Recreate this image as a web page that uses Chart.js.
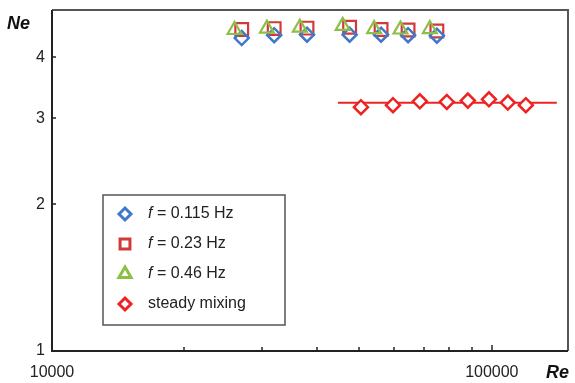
<!DOCTYPE html>
<html>
<head>
<meta charset="utf-8">
<script src="https://cdn.jsdelivr.net/npm/chart.js@4.4.1/dist/chart.umd.min.js"></script>
<style>
  html, body { margin: 0; padding: 0; background: #fff; }
  #wrap { width: 575px; height: 383px; position: relative; }
</style>
</head>
<body>
<div id="wrap"><canvas id="neChart"></canvas></div>
<script>
// data (Re vs Ne, log-log)
const reBlue = [27000, 32000, 38000, 47500, 56000, 64500, 75000];
const neBlue = [4.38, 4.44, 4.45, 4.45, 4.45, 4.44, 4.43];
const reSquare = [27000, 32000, 38000, 47500, 56000, 64500, 75000];
const neSquare = [4.56, 4.58, 4.59, 4.61, 4.56, 4.55, 4.53];
const reTri = [26000, 30800, 36600, 45800, 54000, 62000, 72300];
const neTri = [4.55, 4.58, 4.60, 4.64, 4.57, 4.56, 4.57];
const reSteady = [50400, 59600, 68600, 79000, 88200, 98500, 108700, 119500];
const neSteady = [3.16, 3.19, 3.25, 3.24, 3.26, 3.28, 3.23, 3.19];
const reFit = [44700, 140500];
const neFit = [3.227, 3.227];

const xLabelTicks = [10000, 100000];
const xMinorTicks = [20000, 30000, 40000, 50000, 60000, 70000, 80000, 90000, 100000];
const yTicks = [1, 2, 3, 4];

const legendLabels = [
    { italic: 'f', text: ' = 0.115 Hz' },
    { italic: 'f', text: ' = 0.23 Hz' },
    { italic: 'f', text: ' = 0.46 Hz' },
    { italic: '', text: 'steady mixing' }
];

const BLUE = '#3f78c8';
const SQRED = '#d23a3a';
const GREEN = '#8dbf45';
const RED = '#ee2222';
const FONT = '"Liberation Sans", Arial, sans-serif';

const pts = (xs, ys) => xs.map((x, i) => ({ x: x, y: ys[i] }));

// frame, inward ticks, axis titles and the boxed legend
const decorPlugin = {
    id: 'decor',
    afterDraw(chart) {
        const ctx = chart.ctx;
        const area = chart.chartArea;
        const xs = chart.scales.x;
        const ys = chart.scales.y;
        ctx.save();

        // frame
        ctx.strokeStyle = '#555';
        ctx.lineWidth = 2;
        ctx.beginPath();
        ctx.moveTo(area.left, area.top);
        ctx.lineTo(area.right, area.top);
        ctx.lineTo(area.right, area.bottom);
        ctx.stroke();
        ctx.strokeStyle = '#222';
        ctx.beginPath();
        ctx.moveTo(area.left, area.top);
        ctx.lineTo(area.left, area.bottom);
        ctx.lineTo(area.right, area.bottom);
        ctx.stroke();

        // inward tick marks
        ctx.lineWidth = 1.5;
        xMinorTicks.forEach(v => {
            const px = Math.round(xs.getPixelForValue(v));
            ctx.beginPath();
            ctx.moveTo(px, area.bottom);
            ctx.lineTo(px, area.bottom - (v === 100000 ? 6 : 4));
            ctx.stroke();
        });
        yTicks.slice(1).forEach(v => {
            const py = Math.round(ys.getPixelForValue(v));
            ctx.beginPath();
            ctx.moveTo(area.left, py);
            ctx.lineTo(area.left + 4, py);
            ctx.stroke();
        });

        // axis titles
        ctx.fillStyle = '#111';
        ctx.font = 'italic bold 18px ' + FONT;
        ctx.textBaseline = 'middle';
        ctx.textAlign = 'left';
        ctx.fillText('Ne', 7, 24);
        ctx.fillText('Re', 546, 373);

        // legend box
        const bx = 103, by = 195, bw = 182, bh = 130;
        ctx.strokeStyle = '#555';
        ctx.lineWidth = 1.5;
        ctx.strokeRect(bx, by, bw, bh);

        const rowY = [214, 244, 274, 304];
        chart.data.datasets.filter(d => d.legendIndex !== undefined)
            .sort((a, b) => a.legendIndex - b.legendIndex)
            .forEach((d, i) => {
                ctx.strokeStyle = d.borderColor;
                ctx.fillStyle = '#fff';
                ctx.lineWidth = 3;
                Chart.helpers.drawPoint(ctx, {
                    pointStyle: d.pointStyle,
                    rotation: 0,
                    radius: d.pointStyle === 'triangle' ? 7 : (d.pointStyle === 'rect' ? 7 : 6),
                    borderWidth: 3
                }, 125, rowY[i]);
                const lab = legendLabels[i];
                let tx = 148;
                ctx.fillStyle = '#222';
                ctx.textAlign = 'left';
                if (lab.italic) {
                    ctx.font = 'italic 16px ' + FONT;
                    ctx.fillText(lab.italic, tx, rowY[i]);
                    tx += ctx.measureText(lab.italic).width;
                }
                ctx.font = '16px ' + FONT;
                ctx.fillText(lab.text, tx, rowY[i]);
            });
        ctx.restore();
    }
};

new Chart(document.getElementById('neChart'), {
    type: 'scatter',
    data: {
        datasets: [
            {
                label: 'fit',
                type: 'line',
                data: pts(reFit, neFit),
                borderColor: RED,
                borderWidth: 2,
                pointRadius: 0,
                order: 5
            },
            {
                label: 'f = 0.23 Hz',
                legendIndex: 1,
                data: pts(reSquare, neSquare),
                pointStyle: 'rect',
                pointRadius: 9,
                borderColor: SQRED,
                backgroundColor: 'rgba(0,0,0,0)',
                pointBorderWidth: 2.2,
                order: 4
            },
            {
                label: 'f = 0.115 Hz',
                legendIndex: 0,
                data: pts(reBlue, neBlue),
                pointStyle: 'rectRot',
                pointRadius: 7,
                borderColor: BLUE,
                backgroundColor: 'rgba(0,0,0,0)',
                pointBorderWidth: 2.5,
                order: 3
            },
            {
                label: 'f = 0.46 Hz',
                legendIndex: 2,
                data: pts(reTri, neTri),
                pointStyle: 'triangle',
                pointRadius: 8,
                borderColor: GREEN,
                backgroundColor: 'rgba(0,0,0,0)',
                pointBorderWidth: 2.2,
                order: 2
            },
            {
                label: 'steady mixing',
                legendIndex: 3,
                data: pts(reSteady, neSteady),
                pointStyle: 'rectRot',
                pointRadius: 7,
                borderColor: RED,
                backgroundColor: '#fff',
                pointBorderWidth: 2.5,
                order: 1
            }
        ]
    },
    options: {
        responsive: true,
        maintainAspectRatio: false,
        animation: false,
        layout: { autoPadding: false, padding: { top: 10, right: 7, left: 0, bottom: 0 } },
        plugins: {
            legend: { display: false },
            tooltip: { enabled: false }
        },
        scales: {
            x: {
                type: 'logarithmic',
                min: 10000,
                max: 149000,
                border: { display: false },
                grid: { display: false, drawTicks: false },
                afterBuildTicks(scale) {
                    scale.ticks = xLabelTicks.map(v => ({ value: v }));
                },
                afterFit(scale) {
                    scale.height = 32;
                    scale.paddingLeft = 0;
                    scale.paddingRight = 0;
                },
                ticks: {
                    autoSkip: false,
                    maxRotation: 0,
                    padding: 12,
                    color: '#222',
                    font: { family: FONT, size: 16 },
                    callback: v => String(v)
                }
            },
            y: {
                type: 'logarithmic',
                min: 1,
                max: 5,
                border: { display: false },
                grid: { display: false, drawTicks: false },
                afterBuildTicks(scale) {
                    scale.ticks = yTicks.map(v => ({ value: v }));
                },
                afterFit(scale) {
                    scale.width = 52;
                    scale.paddingTop = 0;
                    scale.paddingBottom = 0;
                },
                ticks: {
                    autoSkip: false,
                    padding: 7,
                    color: '#222',
                    font: { family: FONT, size: 16 },
                    callback: v => String(v)
                }
            }
        }
    },
    plugins: [decorPlugin]
});
</script>
</body>
</html>
